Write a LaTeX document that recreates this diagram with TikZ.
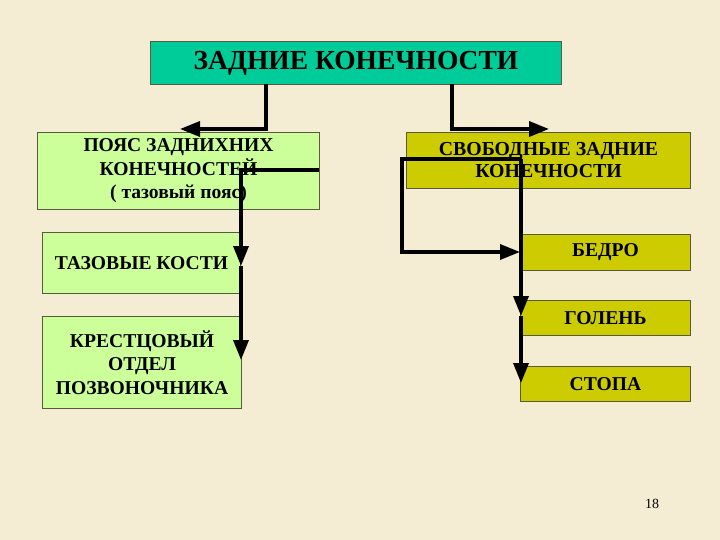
\documentclass[tikz,border=0pt]{standalone}
\usepackage{fontspec}
\setmainfont{Liberation Serif}
\usetikzlibrary{arrows.meta}
\definecolor{bgc}{RGB}{245,237,211}
\definecolor{teal1}{RGB}{0,204,153}
\definecolor{lgreen}{RGB}{204,255,153}
\definecolor{olive1}{RGB}{204,204,0}
\definecolor{edgec}{RGB}{90,90,60}
\begin{document}
\begin{tikzpicture}[x=1pt,y=-1pt,
  box/.style={draw=edgec,line width=1pt,inner sep=0pt,anchor=north west,align=center,font=\bfseries\fontsize{19.6}{23.5}\selectfont},
  conn/.style={line width=3.4pt,line join=miter},
  tip/.style={-{Triangle[length=20pt,width=15pt]}}]
\useasboundingbox[fill=bgc] (0,0) rectangle (720,540);
\node[box,fill=teal1,minimum width=411pt,minimum height=43pt,font=\bfseries\fontsize{27.5}{32}\selectfont] (top) at (150,41) {ЗАДНИЕ КОНЕЧНОСТИ};
\node[box,fill=lgreen,minimum width=282pt,minimum height=77pt] (belt) at (37,132) {ПОЯС ЗАДНИХНИХ\\КОНЕЧНОСТЕЙ\\( тазовый пояс)};
\node[box,fill=olive1,minimum width=284pt,minimum height=56pt,font=\bfseries\fontsize{19.8}{22}\selectfont] (free) at (406,132) {СВОБОДНЫЕ ЗАДНИЕ\\КОНЕЧНОСТИ};
\node[box,fill=lgreen,minimum width=198pt,minimum height=61pt] (pelvis) at (42,232) {ТАЗОВЫЕ КОСТИ};
\node[box,fill=lgreen,minimum width=199pt,minimum height=92pt] (sacral) at (42,316) {КРЕСТЦОВЫЙ\\ОТДЕЛ\\ПОЗВОНОЧНИКА};
\node[box,fill=olive1,minimum width=170pt,minimum height=36pt] (thigh) at (520,234) {БЕДРО};
\node[box,fill=olive1,minimum width=170pt,minimum height=35pt] (shin) at (520,300) {ГОЛЕНЬ};
\node[box,fill=olive1,minimum width=170pt,minimum height=35pt] (foot) at (520,366) {СТОПА};
\node[font=\fontsize{14}{16}\selectfont] (pg) at (652,504) {18};
% connectors
\coordinate (a1) at (266,84);
\coordinate (a2) at (266,129);
\coordinate (a3) at (180,129);
\draw[conn,tip] (a1) -- (a2) -- (a3);
\coordinate (b1) at (452,84);
\coordinate (b2) at (452,129);
\coordinate (b3) at (549,129);
\draw[conn,tip] (b1) -- (b2) -- (b3);
\coordinate (c1) at (319,170);
\coordinate (c2) at (241,170);
\coordinate (c3) at (241,266);
\coordinate (c4) at (241,360);
\draw[conn,tip] (c1) -- (c2) -- (c3);
\draw[conn,tip] (c3) -- (c4);
\coordinate (d1) at (521,159);
\coordinate (d2) at (402,159);
\coordinate (d3) at (402,252);
\coordinate (d4) at (520,252);
\draw[conn,tip] (d1) -- (d2) -- (d3) -- (d4);
\coordinate (e2) at (521,316);
\coordinate (e3) at (521,383);
\draw[conn,tip] (d1) -- (e2);
\draw[conn,tip] (e2) -- (e3);
\end{tikzpicture}
\end{document}
